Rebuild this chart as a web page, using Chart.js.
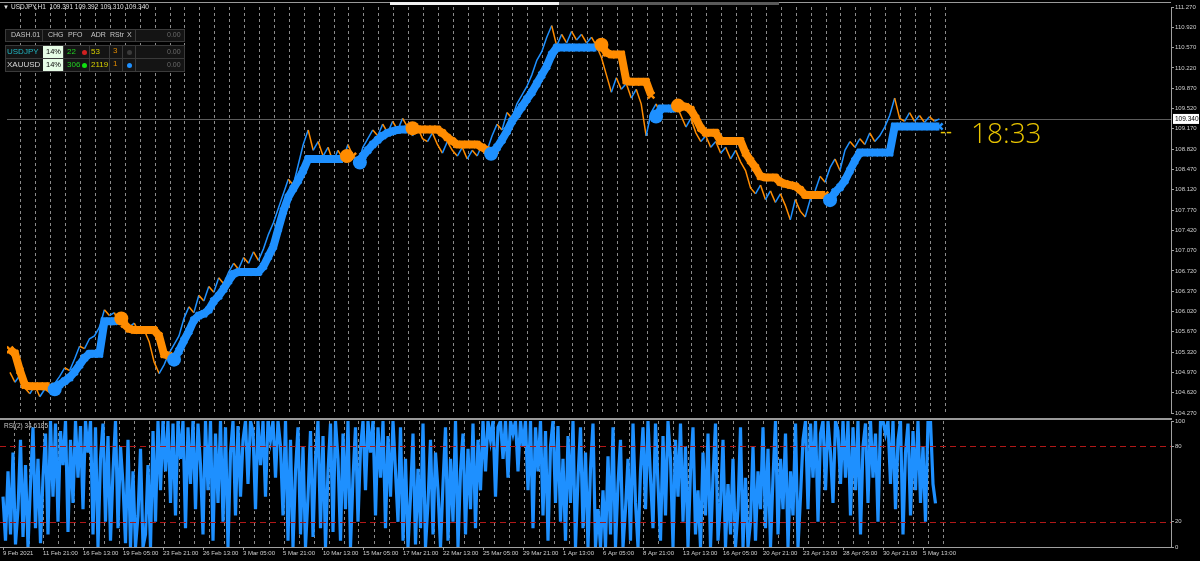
<!DOCTYPE html>
<html lang="en">
<head>
<meta charset="UTF-8">
<title>USDJPY H1</title>
<script src="https://cdn.jsdelivr.net/npm/chart.js"></script>
<style>
  body { margin: 0; background: #000; width: 1200px; height: 561px; overflow: hidden; position: relative; font-family: "Liberation Sans", sans-serif; }
  canvas { position: absolute; left: 0; }
  .abs { position: absolute; white-space: nowrap; }
  .box { position: absolute; background: #141414; border: 1px solid #3a3a3a; box-sizing: border-box; }
  .vsep { position: absolute; width: 1px; background: #3a3a3a; }
  .t { position: absolute; height: 12px; line-height: 12px; font-size: 7px; color: #c8c8c8; white-space: nowrap; }
  .dot { position: absolute; width: 5px; height: 5px; border-radius: 50%; }
</style>
</head>
<body>
<canvas id="main" width="1200" height="420" style="top:0"></canvas>
<canvas id="rsi" width="1200" height="149" style="top:412px"></canvas>

<!-- frame lines -->
<div class="abs" style="left:0;top:2px;width:1171px;height:1px;background:#9a9a9a"></div>
<div class="abs" style="left:0;top:418px;width:1172px;height:2px;background:#9a9a9a"></div>
<div class="abs" style="left:390px;top:2px;width:169px;height:3px;background:#f0f0f0"></div>
<div class="abs" style="left:559px;top:2px;width:220px;height:3px;background:#5a5a5a"></div>

<!-- header -->
<div class="abs" style="left:3px;top:2px;font-size:6px;color:#e0e0e0;line-height:10px">&#9660;</div>
<div class="abs" style="left:11px;top:2px;font-size:6.5px;color:#e0e0e0;line-height:10px">USDJPY,H1&nbsp; 109.391 109.392 109.310 109.340</div>

<!-- dashboard -->
<div class="box" style="left:5px;top:29px;width:180px;height:13px"></div>
<div class="vsep" style="left:42px;top:29px;height:13px"></div>
<div class="vsep" style="left:135px;top:29px;height:13px"></div>
<div class="t" style="left:11px;top:29px">DASH.01</div>
<div class="t" style="left:48px;top:29px">CHG</div>
<div class="t" style="left:68px;top:29px">PFO</div>
<div class="t" style="left:91px;top:29px">ADR</div>
<div class="t" style="left:110px;top:29px">RStr</div>
<div class="t" style="left:127px;top:29px">X</div>
<div class="t" style="left:167px;top:29px;color:#6a6a6a">0.00</div>

<div class="box" style="left:5px;top:45px;width:180px;height:27px"></div>
<div class="abs" style="left:5px;top:58px;width:180px;height:1px;background:#3a3a3a"></div>
<div class="abs" style="left:43px;top:46px;width:20px;height:12px;background:#e6fde6"></div>
<div class="abs" style="left:43px;top:59px;width:20px;height:12px;background:#e6fde6"></div>
<div class="vsep" style="left:63px;top:45px;height:27px"></div>
<div class="vsep" style="left:89px;top:45px;height:27px"></div>
<div class="vsep" style="left:109px;top:45px;height:27px"></div>
<div class="vsep" style="left:122px;top:45px;height:27px"></div>
<div class="vsep" style="left:135px;top:45px;height:27px"></div>

<div class="t" style="left:7px;top:46px;font-size:8px;color:#22b8c4">USDJPY</div>
<div class="t" style="left:46px;top:46px;font-size:7.5px;color:#000">14%</div>
<div class="t" style="left:67px;top:46px;font-size:8px;color:#22d022">22</div>
<div class="dot" style="left:82px;top:50px;background:#d02020"></div>
<div class="t" style="left:91px;top:46px;font-size:8px;color:#d8d000">53</div>
<div class="t" style="left:113px;top:45px;font-size:8px;color:#e08a00">3</div>
<div class="dot" style="left:127px;top:50px;background:#3a3a3a"></div>
<div class="t" style="left:167px;top:46px;color:#6a6a6a">0.00</div>

<div class="t" style="left:7px;top:59px;font-size:8px;color:#d8d8d8">XAUUSD</div>
<div class="t" style="left:46px;top:59px;font-size:7.5px;color:#000">14%</div>
<div class="t" style="left:67px;top:59px;font-size:8px;color:#22d022">306</div>
<div class="dot" style="left:82px;top:63px;background:#10e010"></div>
<div class="t" style="left:91px;top:59px;font-size:8px;color:#d8d000">2119</div>
<div class="t" style="left:113px;top:58px;font-size:8px;color:#e08a00">1</div>
<div class="dot" style="left:127px;top:63px;background:#1e90ff"></div>
<div class="t" style="left:167px;top:59px;color:#6a6a6a">0.00</div>

<!-- timer -->
<div class="abs" style="left:940px;top:122px;font-size:18px;line-height:20px;color:#e8c400">--</div>
<div class="abs" style="left:971px;top:118px;font-size:28px;line-height:28px;color:#e8c400;font-family:'Open Sans',sans-serif;font-weight:300">18:33</div>

<div class="abs" style="left:4px;top:421px;font-size:6.5px;line-height:9px;color:#c8c8c8">RSI(2) 34.6185</div>

<script>
// x index: one step = 5 px of H1 history, first label at index 0
const xLabels = ['9 Feb 2021', '11 Feb 21:00', '16 Feb 13:00', '19 Feb 05:00', '23 Feb 21:00', '26 Feb 13:00',
  '3 Mar 05:00', '5 Mar 21:00', '10 Mar 13:00', '15 Mar 05:00', '17 Mar 21:00', '22 Mar 13:00',
  '25 Mar 05:00', '29 Mar 21:00', '1 Apr 13:00', '6 Apr 05:00', '8 Apr 21:00', '13 Apr 13:00',
  '16 Apr 05:00', '20 Apr 21:00', '23 Apr 13:00', '28 Apr 05:00', '30 Apr 21:00', '5 May 13:00'];
const labelStep = 8;

const priceTicks = [104.27, 104.62, 104.97, 105.32, 105.67, 106.02, 106.37, 106.72, 107.07, 107.42, 107.77,
  108.12, 108.47, 108.82, 109.17, 109.52, 109.87, 110.22, 110.57, 110.92, 111.27];
const lastPrice = 109.34;

const closePrice = [
  104.97, 104.80, 104.92, 104.70, 104.60, 104.75, 104.55, 104.68, 104.62, 104.78,
  104.90, 105.05, 105.00, 105.20, 105.42, 105.38, 105.55, 105.60, 105.75, 106.05,
  105.95, 106.00, 105.80, 105.90, 105.75, 105.82, 105.65, 105.70, 105.50, 105.15,
  104.95, 105.10, 105.30, 105.45, 105.60, 105.90, 106.10, 106.00, 106.30, 106.20,
  106.45, 106.35, 106.60, 106.50, 106.70, 106.85, 106.75, 106.95, 106.85, 107.05,
  106.90, 107.10, 107.35, 107.55, 107.80, 108.05, 108.30, 108.20, 108.55, 108.90,
  109.15, 108.80, 108.95, 108.70, 108.85, 108.60, 108.80, 108.65, 108.90, 108.70,
  108.55, 108.85, 109.00, 109.15, 109.05, 109.25, 109.10, 109.30, 109.15, 109.35,
  109.20, 109.05, 109.20, 109.00, 108.95, 109.10, 108.90, 108.75, 108.95, 108.80,
  108.70, 108.85, 108.65, 108.80, 108.70, 108.90, 108.80, 109.05, 109.25, 109.15,
  109.45, 109.35, 109.60, 109.75, 109.90, 110.10, 110.35, 110.50, 110.75, 110.95,
  110.60, 110.80, 110.65, 110.85, 110.70, 110.80, 110.65, 110.75, 110.60, 110.40,
  110.10, 109.80, 110.05, 109.85, 109.95, 109.70, 109.85, 109.60, 109.05, 109.45,
  109.60, 109.40, 109.55, 109.45, 109.60, 109.40, 109.20, 109.35, 109.10, 108.95,
  109.05, 108.85, 108.95, 108.75, 108.85, 108.65, 108.80, 108.60, 108.45, 108.15,
  108.05, 108.20, 107.95, 108.10, 107.90, 108.05, 107.85, 107.60, 107.95, 107.75,
  107.65, 107.95, 108.10, 108.35, 108.25, 108.50, 108.65, 108.45, 108.80, 108.95,
  108.85, 109.00, 108.90, 109.10, 108.95, 109.05, 109.20, 109.40, 109.70, 109.35,
  109.30, 109.45, 109.30, 109.40, 109.28, 109.38, 109.30, 109.34
];

// trailing stop, up-trend (blue) and down-trend (orange)
const stopUp = [
  null, null, null, null, null, null, null, null, null, 104.68,
  104.76, 104.82, 104.88, 104.98, 105.10, 105.22, 105.29, 105.29, 105.29, 105.85,
  105.85, 105.85, 105.87, null, null, null, null, null, null, null,
  null, null, null, 105.19, 105.34, 105.52, 105.68, 105.87, 105.95, 105.98,
  106.05, 106.20, 106.29, 106.41, 106.55, 106.67, 106.70, 106.70, 106.70, 106.70,
  106.70, 106.80, 106.97, 107.14, 107.45, 107.75, 107.99, 108.14, 108.28, 108.45,
  108.65, 108.65, 108.65, 108.65, 108.65, 108.65, 108.65, 108.65, null, null,
  108.59, 108.70, 108.80, 108.90, 108.98, 109.05, 109.10, 109.13, 109.15, 109.16,
  109.16, null, null, null, null, null, null, null, null, null,
  null, null, null, null, null, null, null, 108.76, 108.85, 108.98,
  109.13, 109.30, 109.42, 109.55, 109.68, 109.80, 109.95, 110.10, 110.25, 110.45,
  110.57, 110.57, 110.57, 110.57, 110.57, 110.57, 110.57, 110.57, 110.57, null,
  null, null, null, null, null, null, null, null, null, null,
  109.38, 109.52, 109.52, 109.52, 109.52, null, null, null, null, null,
  null, null, null, null, null, null, null, null, null, null,
  null, null, null, null, null, null, null, null, null, null,
  null, null, null, null, null, 107.94, 108.08, 108.16, 108.28, 108.45,
  108.62, 108.76, 108.76, 108.76, 108.76, 108.76, 108.76, 108.76, 109.21, 109.21,
  109.21, 109.21, 109.21, 109.21, 109.21, 109.21, 109.21, 109.21
];
const stopDown = [
  105.36, 105.30, 105.00, 104.75, 104.73, 104.73, 104.73, 104.73, 104.73, null,
  null, null, null, null, null, null, null, null, null, null,
  null, null, null, 105.80, 105.72, 105.70, 105.70, 105.70, 105.70, 105.70,
  105.60, 105.28, 105.26, null, null, null, null, null, null, null,
  null, null, null, null, null, null, null, null, null, null,
  null, null, null, null, null, null, null, null, null, null,
  null, null, null, null, null, null, null, null, 108.70, 108.70,
  null, null, null, null, null, null, null, null, null, null,
  null, 109.18, 109.16, 109.16, 109.16, 109.16, 109.16, 109.10, 109.02, 108.96,
  108.90, 108.90, 108.90, 108.90, 108.90, 108.85, 108.80, null, null, null,
  null, null, null, null, null, null, null, null, null, null,
  null, null, null, null, null, null, null, null, null, 110.62,
  110.48, 110.45, 110.45, 110.45, 110.00, 109.98, 109.98, 109.98, 109.98, 109.75,
  null, null, null, null, null, 109.57, 109.55, 109.50, 109.35, 109.18,
  109.10, 109.10, 109.10, 108.96, 108.96, 108.96, 108.96, 108.96, 108.75, 108.62,
  108.50, 108.35, 108.33, 108.33, 108.33, 108.25, 108.22, 108.20, 108.18, 108.12,
  108.03, 108.03, 108.03, 108.03, 108.03, null, null, null, null, null,
  null, null, null, null, null, null, null, null, null, null,
  null, null, null, null, null, null, null, null
];

// trend flips
const flipUpIdx = [9, 33, 70.4, 96.8, 130, 165];
const flipUpVal = [104.68, 105.19, 108.59, 108.74, 109.38, 107.94];
const flipDownIdx = [22.4, 67.8, 81, 119, 134.4];
const flipDownVal = [105.90, 108.70, 109.18, 110.62, 109.57];

// RSI(2), two readings per x index
const rsiValues = [
  40, 5, 60, 10, 75, 2, 30, 85, 8, 65, 0, 50, 95, 15, 70, 3,
  55, 90, 10, 100, 40, 98, 20, 92, 65, 100, 12, 85, 35, 100, 55, 96,
  30, 100, 75, 100, 10, 95, 0, 70, 98, 20, 88, 5, 60, 100, 15, 80,
  50, 3, 85, 0, 60, 0, 25, 78, 0, 10, 65, 0, 92, 20, 100, 45,
  100, 60, 100, 35, 98, 25, 100, 70, 100, 15, 95, 50, 100, 30, 98, 65,
  10, 100, 45, 100, 5, 90, 35, 100, 20, 95, 0, 75, 100, 25, 96, 40,
  85, 100, 50, 100, 92, 30, 100, 65, 100, 40, 100, 85, 100, 55, 100, 80,
  25, 100, 5, 85, 0, 60, 95, 10, 80, 0, 40, 92, 8, 70, 100, 15,
  88, 0, 60, 98, 12, 100, 70, 5, 90, 30, 100, 0, 55, 95, 20, 78,
  100, 45, 100, 75, 100, 25, 95, 55, 100, 15, 88, 40, 100, 60, 20, 95,
  5, 70, 0, 40, 90, 2, 62, 15, 98, 0, 35, 85, 10, 75, 45, 0,
  50, 95, 5, 70, 20, 100, 0, 60, 90, 10, 78, 30, 98, 15, 85, 45,
  100, 60, 100, 85, 100, 40, 95, 100, 70, 100, 55, 100, 90, 100, 60, 100,
  80, 100, 45, 100, 15, 95, 60, 100, 25, 92, 5, 80, 100, 35, 96, 20,
  70, 5, 88, 35, 100, 0, 55, 95, 15, 75, 0, 62, 98, 0, 30, 0,
  45, 0, 72, 10, 95, 0, 50, 85, 0, 30, 70, 5, 98, 35, 0, 60,
  95, 30, 100, 55, 15, 98, 50, 5, 88, 25, 100, 70, 0, 85, 40, 98,
  20, 80, 0, 60, 95, 10, 45, 0, 75, 25, 90, 0, 55, 98, 5, 35,
  85, 0, 50, 10, 70, 0, 30, 95, 0, 55, 0, 20, 80, 5, 60, 30,
  95, 15, 78, 0, 55, 100, 10, 70, 30, 90, 0, 60, 25, 98, 0, 40,
  85, 100, 30, 98, 55, 100, 20, 90, 100, 45, 100, 75, 35, 100, 92, 50,
  100, 55, 100, 25, 95, 45, 100, 10, 80, 98, 35, 100, 55, 90, 20, 100,
  100, 90, 100, 50, 100, 30, 85, 100, 10, 75, 98, 25, 92, 45, 100, 35,
  80, 20, 100, 100, 50, 34.6
];
const rsiTicks = [0, 20, 80, 100];
const rsiLevels = [80, 20];

const BLUE = '#1e90ff';
const ORANGE = '#ff8c00';
const X_MIN = -0.6, X_MAX = 233.6;

// dotted vertical grid every 15 px
const gridIdx = [];
for (let px = 14; px <= 946; px += 15) gridIdx.push((px - 3) / 5);

const xy = (arr, step) => arr.map((v, i) => ({ x: i * step, y: v }));
const font6 = { family: 'Liberation Sans', size: 6 };

const gridX = {
  type: 'linear', min: X_MIN, max: X_MAX,
  afterBuildTicks: s => { s.ticks = gridIdx.map(v => ({ value: v })); },
  afterFit: s => { s.height = 0; },
  ticks: { display: false },
  grid: { color: '#8a8a8a', drawTicks: false, lineWidth: 1 },
  border: { display: false, dash: [3, 3] }
};

const priceLine = {
  id: 'priceLine',
  beforeDatasetsDraw(chart) {
    const { ctx, chartArea } = chart;
    const y = Math.round(chart.scales.y.getPixelForValue(lastPrice)) + 0.5;
    ctx.save();
    ctx.strokeStyle = '#5c5c5c';
    ctx.lineWidth = 1;
    ctx.beginPath();
    ctx.moveTo(chartArea.left, y);
    ctx.lineTo(chartArea.right, y);
    ctx.stroke();
    ctx.restore();
  },
  afterDraw(chart) {
    const { ctx, chartArea } = chart;
    const y = chart.scales.y.getPixelForValue(lastPrice);
    ctx.save();
    ctx.fillStyle = '#ffffff';
    ctx.fillRect(chartArea.right + 2, y - 5, 26, 10);
    ctx.fillStyle = '#000';
    ctx.font = '6.5px "Liberation Sans"';
    ctx.textBaseline = 'middle';
    ctx.fillText(lastPrice.toFixed(3), chartArea.right + 4, y);
    ctx.restore();
  }
};

const stopStyle = color => ({
  borderColor: color, borderWidth: 8, borderCapStyle: 'butt', spanGaps: false,
  pointStyle: 'crossRot', pointRadius: 4.5, pointBorderWidth: 2.5, pointBorderColor: color, pointBackgroundColor: color,
  order: 1
});

new Chart(document.getElementById('main'), {
  type: 'line',
  data: {
    datasets: [
      { data: flipUpIdx.map((x, i) => ({ x, y: flipUpVal[i] })), showLine: false, pointRadius: 7, pointBackgroundColor: BLUE, pointBorderWidth: 0, order: 0 },
      { data: flipDownIdx.map((x, i) => ({ x, y: flipDownVal[i] })), showLine: false, pointRadius: 7, pointBackgroundColor: ORANGE, pointBorderWidth: 0, order: 0 },
      { data: xy(stopUp, 1), ...stopStyle(BLUE) },
      { data: xy(stopDown, 1), ...stopStyle(ORANGE) },
      {
        data: xy(closePrice, 1), borderWidth: 1.5, pointRadius: 0, order: 2, borderColor: '#c8884a',
        segment: { borderColor: c => c.p1.parsed.y >= c.p0.parsed.y ? BLUE : ORANGE }
      }
    ]
  },
  options: {
    responsive: false, animation: false, events: [],
    layout: { padding: { left: 0, right: 0, top: 4, bottom: 4 } },
    plugins: { legend: { display: false }, tooltip: { enabled: false } },
    scales: {
      x: gridX,
      y: {
        position: 'right', min: priceTicks[0], max: priceTicks[priceTicks.length - 1],
        afterBuildTicks: s => { s.ticks = priceTicks.map(v => ({ value: v })); },
        afterFit: s => { s.width = 29; },
        ticks: { color: '#cfcfcf', font: font6, padding: 1, autoSkip: false, callback: v => v.toFixed(3) },
        grid: { drawOnChartArea: false, tickLength: 3, color: '#a0a0a0' },
        border: { color: '#a0a0a0' }
      }
    }
  },
  plugins: [priceLine]
});

const levelLines = {
  id: 'levelLines',
  afterDatasetsDraw(chart) {
    const { ctx, chartArea } = chart;
    ctx.save();
    ctx.strokeStyle = '#b01818';
    ctx.lineWidth = 1;
    ctx.setLineDash([6, 4]);
    rsiLevels.forEach(v => {
      const y = Math.round(chart.scales.y.getPixelForValue(v)) + 0.5;
      ctx.beginPath();
      ctx.moveTo(chartArea.left, y);
      ctx.lineTo(chartArea.right, y);
      ctx.stroke();
    });
    ctx.restore();
  }
};

new Chart(document.getElementById('rsi'), {
  type: 'line',
  data: {
    datasets: [
      { data: xy(rsiValues, 0.5), borderColor: BLUE, borderWidth: 3.2, pointRadius: 0, xAxisID: 'x' }
    ]
  },
  options: {
    responsive: false, animation: false, events: [],
    layout: { padding: { left: 0, right: 0, top: 9, bottom: 0 } },
    plugins: { legend: { display: false }, tooltip: { enabled: false } },
    scales: {
      x: gridX,
      x2: {
        type: 'linear', position: 'bottom', min: X_MIN, max: X_MAX,
        afterBuildTicks: s => { s.ticks = xLabels.map((t, k) => ({ value: k * labelStep })); },
        afterFit: s => { s.height = 14; },
        ticks: { autoSkip: false, maxRotation: 0, align: 'start', padding: 0, color: '#cfcfcf', font: font6, callback: (v, i) => xLabels[i] },
        grid: { drawOnChartArea: false, tickLength: 3, color: '#a0a0a0' },
        border: { display: true, color: '#a0a0a0' }
      },
      y: {
        position: 'right', min: 0, max: 100,
        afterBuildTicks: s => { s.ticks = rsiTicks.map(v => ({ value: v })); },
        afterFit: s => { s.width = 29; },
        ticks: { color: '#cfcfcf', font: font6, padding: 1, autoSkip: false },
        grid: { drawOnChartArea: false, tickLength: 3, color: '#a0a0a0' },
        border: { color: '#a0a0a0' }
      }
    }
  },
  plugins: [levelLines]
});
</script>
</body>
</html>
